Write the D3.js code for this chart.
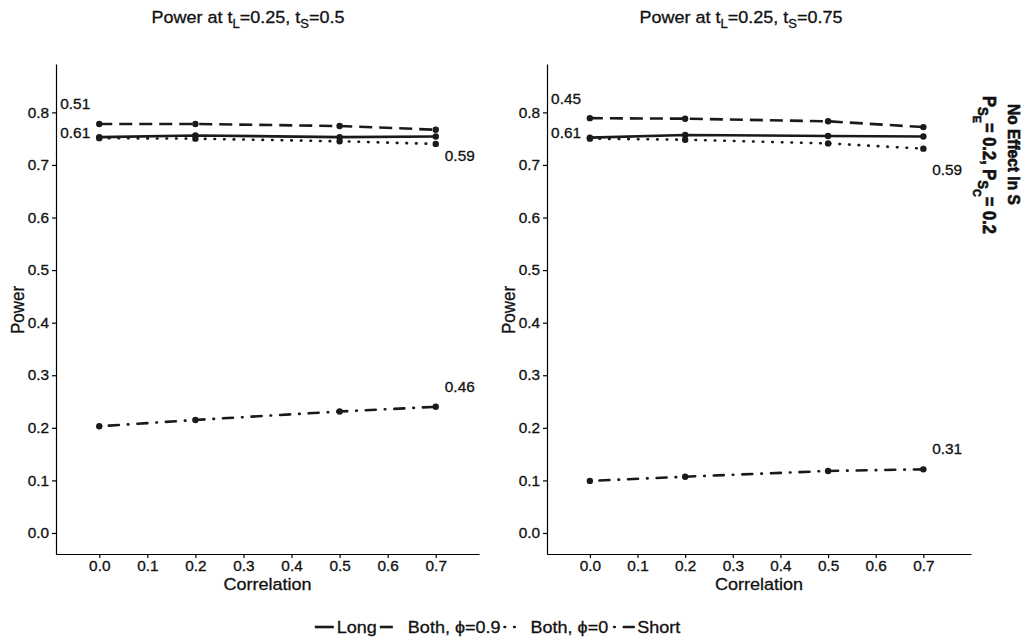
<!DOCTYPE html>
<html>
<head>
<meta charset="utf-8">
<script src="https://cdn.jsdelivr.net/npm/d3@7"></script>
<style>
  body { margin: 0; background: #fff; }
  svg { display: block; }
  text { font-family: "Liberation Sans", Arial, Helvetica, sans-serif; fill: #111; stroke: #111; stroke-width: 0.3px; }
</style>
</head>
<body>
<svg id="chart" width="1030" height="640"></svg>
<script>
// ---- data -------------------------------------------------------------
const correlation = [0, 0.2, 0.5, 0.7];

// panel A: tL = 0.25, tS = 0.5
const longA   = [0.753, 0.756, 0.753, 0.754];
const both09A = [0.778, 0.778, 0.774, 0.767];
const both0A  = [0.751, 0.750, 0.745, 0.740];
const shortA  = [0.203, 0.215, 0.231, 0.240];

// panel B: tL = 0.25, tS = 0.75
const longB   = [0.752, 0.757, 0.755, 0.754];
const both09B = [0.789, 0.788, 0.783, 0.772];
const both0B  = [0.750, 0.748, 0.741, 0.731];
const shortB  = [0.099, 0.107, 0.118, 0.121];

// annotation texts and where they sit (data units)
const noteTextA = ["0.51", "0.61", "0.59", "0.46"];
const noteXA    = [-0.05, -0.05, 0.75, 0.75];
const noteYA    = [0.807, 0.752, 0.708, 0.268];
const noteTextB = ["0.45", "0.61", "0.59", "0.31"];
const noteXB    = [-0.05, -0.05, 0.75, 0.75];
const noteYB    = [0.816, 0.752, 0.681, 0.150];

const xTicks = [0, 0.1, 0.2, 0.3, 0.4, 0.5, 0.6, 0.7];
const yTicks = [0, 0.1, 0.2, 0.3, 0.4, 0.5, 0.6, 0.7, 0.8];

const seriesNames = ["Long", "Both, \u03D5=0.9", "Both, \u03D5=0", "Short"];

// ---- styling ----------------------------------------------------------
const INK = "#1a1a1a";
const SX = 1.06;                       // horizontal text stretch
const LW = 2.6;
// solid, dashed, dotted, dot-dash
const dashes = [null, "13,7", "0.6,9", "0.6,9,10,9"];
const caps   = ["butt", "butt", "round", "round"];

const svg = d3.select("#chart");

// text helper: parts is a list of strings or {t, level} subscript pieces
function addText(parent, x, y, parts, o) {
  const g = parent.append("g")
    .attr("transform", `translate(${x},${y}) scale(${SX},1)` + (o.rotate ? ` rotate(${o.rotate})` : ""));
  const t = g.append("text")
    .attr("text-anchor", o.anchor || "middle")
    .style("font-size", o.size + "px");
  if (o.bold) t.style("font-weight", "700").style("stroke-width", "0.6px");
  if (o.dy) t.attr("dy", o.dy);
  let level = 0;
  const shift = o.shift || [0, 0.28, 0.48];
  const scale = o.subScale || [1, 0.72, 0.6];
  (typeof parts === "string" ? [parts] : parts).forEach(p => {
    const piece = typeof p === "string" ? { t: p, level: 0 } : p;
    const dy = (shift[piece.level] - shift[level]) * o.size;
    t.append("tspan")
      .attr("dy", dy)
      .style("font-size", (o.size * scale[piece.level]) + "px")
      .text(piece.t);
    level = piece.level;
  });
  return g;
}

function panel(cfg) {
  const x = d3.scaleLinear().domain(cfg.xDomain).range([cfg.left, cfg.right]);
  const y = d3.scaleLinear().domain([-0.04, 0.892]).range([554, 64]);
  const g = svg.append("g");

  // axes
  const ax = g.append("g").attr("transform", "translate(0,554)")
    .call(d3.axisBottom(x).tickValues(xTicks).tickFormat(d3.format(".1f"))
      .tickSize(4).tickSizeOuter(0).tickPadding(3));
  const ay = g.append("g").attr("transform", `translate(${cfg.left},0)`)
    .call(d3.axisLeft(y).tickValues(yTicks).tickFormat(d3.format(".1f"))
      .tickSize(4).tickSizeOuter(0).tickPadding(3));
  [ax, ay].forEach(a => {
    a.select(".domain").attr("stroke", "#000").attr("stroke-width", 1.2);
    a.selectAll(".tick line").attr("stroke", "#000").attr("stroke-width", 1.2);
    a.selectAll(".tick text")
      .attr("fill", "#111").style("font-size", "14.5px")
      .style("font-family", '"Liberation Sans", Arial, sans-serif');
  });
  ax.selectAll(".tick text").each(function () {
    d3.select(this).attr("transform", `scale(${SX},1)`).attr("y", 6.5).attr("dy", "0.71em");
  });
  ay.selectAll(".tick text").each(function () {
    const t = d3.select(this);
    const xx = +t.attr("x");
    t.attr("x", 0).attr("transform", `translate(${xx},0) scale(${SX},1)`);
  });

  // series
  const line = d3.line().x((d, i) => x(correlation[i])).y(d => y(d));
  cfg.series.forEach((vals, k) => {
    g.append("path")
      .attr("d", line(vals))
      .attr("fill", "none")
      .attr("stroke", INK)
      .attr("stroke-width", LW)
      .attr("stroke-linecap", caps[k])
      .attr("stroke-dasharray", dashes[k]);
    g.selectAll(null).data(vals).enter().append("circle")
      .attr("cx", (d, i) => x(correlation[i]))
      .attr("cy", d => y(d))
      .attr("r", 3.2)
      .attr("fill", INK);
  });

  // annotations
  cfg.noteText.forEach((s, i) => {
    addText(g, x(cfg.noteX[i]), y(cfg.noteY[i]), s, { size: 14.5, dy: "0.35em" });
  });

  // titles
  addText(g, cfg.titleX, 23, ["Power at t", { t: "L", level: 1 }, "=0.25, t", { t: "S", level: 1 }, cfg.tsText], { size: 17 });
  addText(g, (cfg.left + cfg.right) / 2, 590, "Correlation", { size: 17 });
  addText(g, cfg.left - 32, 310, "Power", { size: 17, rotate: -90 });
}

panel({
  left: 56, right: 479, xDomain: [-0.09, 0.79], titleX: 248, tsText: "=0.5",
  series: [longA, both09A, both0A, shortA],
  noteText: noteTextA, noteX: noteXA, noteY: noteYA
});
panel({
  left: 547, right: 971, xDomain: [-0.09, 0.80], titleX: 741, tsText: "=0.75",
  series: [longB, both09B, both0B, shortB],
  noteText: noteTextB, noteX: noteXB, noteY: noteYB
});

// strip label on the right
addText(svg, 1008, 104, "No Effect In S", { size: 15.5, bold: true, rotate: 90, anchor: "start" });
addText(svg, 983, 96, [
  "P", { t: "S", level: 1 }, { t: "E", level: 2 }, "= 0.2, P",
  { t: "S", level: 1 }, { t: "C", level: 2 }, "= 0.2"
], { size: 16.5, bold: true, rotate: 90, anchor: "start", subScale: [1, 0.8, 0.65], shift: [0, 0.3, 0.55] });

// legend
const legend = svg.append("g");
const keySpec = [
  { len: 19, offset: 0,    gapText: 3 },
  { len: 19, offset: 15,   gapText: 14 },
  { len: 18, offset: 4.6,  gapText: 13 },
  { len: 27, offset: 23.6, gapText: 1 }
];
const itemGap = [-2, -1, 1, 0];
let cursor = 0;
seriesNames.forEach((name, k) => {
  const it = legend.append("g");
  const spec = keySpec[k];
  it.append("line")
    .attr("x1", cursor).attr("x2", cursor + spec.len)
    .attr("y1", 0).attr("y2", 0)
    .attr("stroke", INK).attr("stroke-width", LW)
    .attr("stroke-linecap", caps[k])
    .attr("stroke-dasharray", dashes[k])
    .attr("stroke-dashoffset", spec.offset);
  const tx = cursor + spec.len + spec.gapText;
  const tg = addText(it, tx, 6, name, { size: 17, anchor: "start" });
  const w = tg.select("text").node().getComputedTextLength() * SX;
  cursor = tx + w + itemGap[k];
});
legend.attr("transform", `translate(${497.5 - cursor / 2},627)`);
</script>
</body>
</html>
